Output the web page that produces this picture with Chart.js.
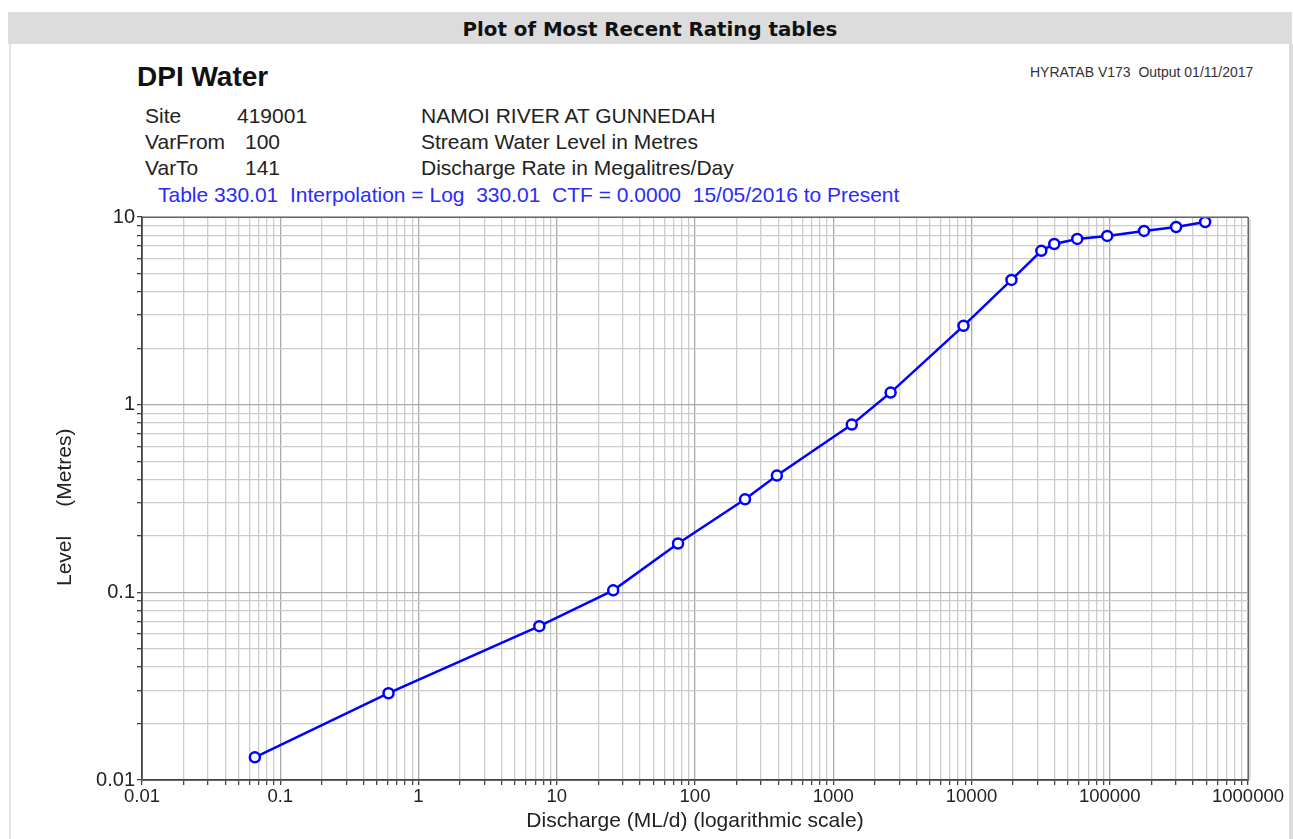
<!DOCTYPE html>
<html>
<head>
<meta charset="utf-8">
<script src="https://cdn.jsdelivr.net/npm/chart.js@4/dist/chart.umd.min.js"></script>
<style>
  body { margin: 0; background: #fff; font-family: "Liberation Sans", Arial, sans-serif; }
  #wrap { position: relative; width: 1293px; height: 839px; overflow: hidden; }
  #bar { position: absolute; left: 8px; top: 12px; width: 1284px; height: 32px; background: #dcdcdc;
         font-family: "DejaVu Sans", sans-serif; font-weight: bold; font-size: 19.8px; text-align: center; line-height: 36px; color: #111; }
  #panel { position: absolute; left: 9px; top: 44px; width: 1278px; height: 800px; border-left: 2px solid #e4e4e4; border-right: 5px solid #dcdcdc; }
  .t { position: absolute; white-space: pre; color: #222; font-size: 21px; line-height: 24px; }
  canvas { position: absolute; left: 0; top: 0; }
</style>
</head>
<body>
<div id="wrap">
  <div id="bar">Plot of Most Recent Rating tables</div>
  <div id="panel"></div>
  <div class="t" style="left:137px;top:61px;font-size:28px;line-height:32px;font-weight:bold;color:#111">DPI Water</div>
  <div class="t" style="left:1030px;top:63px;font-size:14px;line-height:18px;color:#333">HYRATAB V173  Output 01/11/2017</div>
  <div class="t" style="left:145px;top:104px">Site</div>
  <div class="t" style="left:237px;top:104px">419001</div>
  <div class="t" style="left:421px;top:104px">NAMOI RIVER AT GUNNEDAH</div>
  <div class="t" style="left:145px;top:130px">VarFrom</div>
  <div class="t" style="left:245px;top:130px">100</div>
  <div class="t" style="left:421px;top:130px">Stream Water Level in Metres</div>
  <div class="t" style="left:145px;top:156px">VarTo</div>
  <div class="t" style="left:245px;top:156px">141</div>
  <div class="t" style="left:421px;top:156px">Discharge Rate in Megalitres/Day</div>
  <div class="t" style="left:158px;top:183px;font-size:21px;line-height:24px;color:#2a2aff">Table 330.01  Interpolation = Log  330.01  CTF = 0.0000  15/05/2016 to Present</div>
  <canvas id="ratingChart" width="1293" height="839"></canvas>
</div>
<script>
// rating table points
const discharge = [0.0655, 0.607, 7.48, 25.6, 75.4, 230, 391, 1361, 2600, 8750, 19450, 32000, 39700, 58200, 95900, 177000, 302000, 490000];
const level = [0.0132, 0.029, 0.066, 0.1025, 0.182, 0.313, 0.419, 0.783, 1.16, 2.63, 4.62, 6.6, 7.18, 7.64, 7.93, 8.43, 8.85, 9.4];

const xTickLabels = ['0.01', '0.1', '1', '10', '100', '1000', '10000', '100000', '1000000'];
const yTickLabels = ['0.01', '0.1', '1', '10'];
const minorSteps = [1, 2, 3, 4, 5, 6, 7, 8, 9];

function logTicks(labels) {
    const out = [];
    labels.forEach((lab, i) => {
        const base = parseFloat(lab);
        if (i === labels.length - 1) {
            out.push({ value: base });
        } else {
            minorSteps.forEach(m => out.push({ value: base * m }));
        }
    });
    return out;
}

function isDecade(v) {
    const l = Math.log10(v);
    return Math.abs(l - Math.round(l)) < 1e-6;
}

function tickLabel(labels) {
    return function(value) {
        if (!isDecade(value)) return '';
        const s = labels.find(l => Math.abs(parseFloat(l) - value) / value < 1e-6);
        return s || '';
    };
}

const frame = {
    id: 'frame',
    afterDraw(chart) {
        const a = chart.chartArea;
        const c = chart.ctx;
        c.save();
        c.strokeStyle = '#666';
        c.lineWidth = 1;
        c.strokeRect(a.left + 0.5, a.top + 0.5, a.right - a.left, a.bottom - a.top);
        c.strokeStyle = 'rgba(0,0,0,0.25)';
        c.beginPath();
        c.moveTo(a.right + 2, a.top + 2);
        c.lineTo(a.right + 2, a.bottom);
        c.stroke();
        c.restore();
    }
};

const ctx = document.getElementById('ratingChart').getContext('2d');
const ratingChart = new Chart(ctx, {
    type: 'line',
    data: {
        datasets: [{
            label: 'Table 330.01',
            data: discharge.map((q, i) => ({ x: q, y: level[i] })),
            borderColor: '#0000ff',
            borderWidth: 2.5,
            pointRadius: 5,
            pointBorderWidth: 2.5,
            pointBackgroundColor: '#ffffff',
            pointBorderColor: '#0000ff',
            tension: 0
        }]
    },
    options: {
        responsive: false,
        animation: false,
        layout: { padding: { left: 53, right: 45, top: 217, bottom: 5 } },
        plugins: { legend: { display: false }, tooltip: { enabled: false } },
        scales: {
            x: {
                type: 'logarithmic',
                min: 0.01,
                max: 1000000,
                afterBuildTicks: s => { s.ticks = logTicks(xTickLabels); },
                afterFit: s => { s.height = 54; },
                ticks: {
                    autoSkip: false,
                    maxRotation: 0,
                    padding: 1,
                    color: '#222',
                    font: { family: 'Liberation Sans', size: 18.5 },
                    callback: tickLabel(xTickLabels)
                },
                grid: {
                    color: c => isDecade(c.tick.value) ? '#aaaaaa' : '#cccccc',
                    lineWidth: 1.3,
                    tickColor: '#444',
                    tickLength: 5
                },
                border: { color: '#444', width: 1.5 },
                title: {
                    display: true,
                    text: 'Discharge (ML/d) (logarithmic scale)',
                    color: '#222',
                    font: { family: 'Liberation Sans', size: 21 },
                    padding: { top: 0, bottom: 0 }
                }
            },
            y: {
                type: 'logarithmic',
                min: 0.01,
                max: 10,
                afterBuildTicks: s => { s.ticks = logTicks(yTickLabels); },
                afterFit: s => { s.width = 89; },
                ticks: {
                    autoSkip: false,
                    padding: 2,
                    color: '#222',
                    font: { family: 'Liberation Sans', size: 20 },
                    callback: tickLabel(yTickLabels)
                },
                grid: {
                    color: c => isDecade(c.tick.value) ? '#aaaaaa' : '#cccccc',
                    lineWidth: 1.3,
                    tickColor: '#444',
                    tickLength: 5
                },
                border: { color: '#444', width: 1.5 },
                title: {
                    display: true,
                    text: 'Level     (Metres)   ',
                    color: '#222',
                    font: { family: 'Liberation Sans', size: 21 },
                    padding: { top: 0, bottom: 0 }
                }
            }
        }
    },
    plugins: [frame]
});
</script>
</body>
</html>
